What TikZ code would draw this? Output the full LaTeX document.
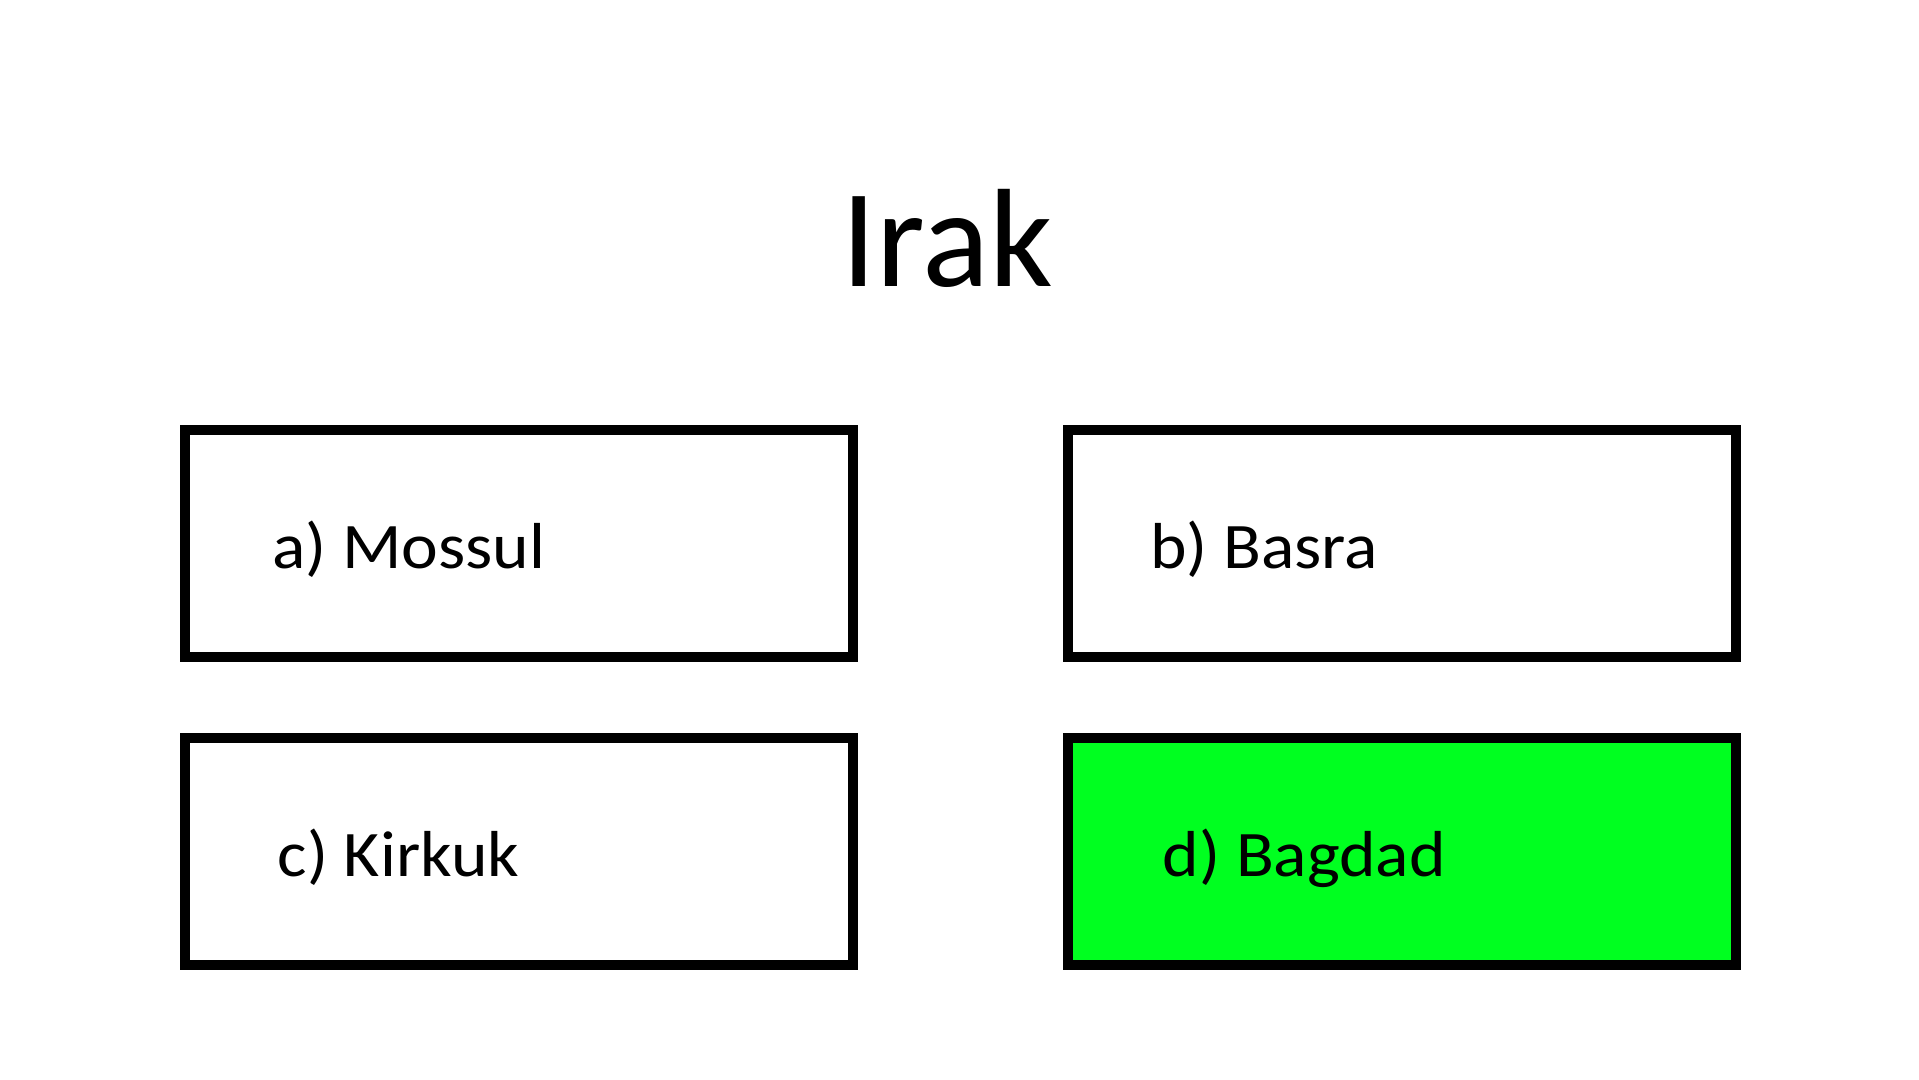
\documentclass[tikz,border=0pt]{standalone}
\usepackage{fontspec}
\setmainfont{Carlito}
\newfontfamily\answerfont{Carlito}[FakeStretch=1.07]
\definecolor{answergreen}{RGB}{0,255,32}
\tikzset{
  answerbox/.style={draw=black, line width=10pt, rectangle, minimum width=668pt, minimum height=227pt, inner sep=0pt},
  answertext/.style={anchor=base west, inner sep=0pt, font=\answerfont\fontsize{65}{78}\selectfont},
  titletext/.style={anchor=base, inner sep=0pt, font=\fontsize{140}{168}\selectfont}
}
\begin{document}
\begin{tikzpicture}[x=1pt, y=-1pt]
\useasboundingbox (0,0) rectangle (1919,1079);
\node[titletext] (title) at (947,286) {Irak};
\node[answerbox, fill=white] (boxa) at (519,543.5) {};
\node[answerbox, fill=white] (boxb) at (1401.5,543.5) {};
\node[answerbox, fill=white] (boxc) at (519,851.5) {};
\node[answerbox, fill=answergreen] (boxd) at (1401.5,851.5) {};
\node[answertext] (ta) at (272,568) {a) Mossul};
\node[answertext] (tb) at (1150,568) {b) Basra};
\node[answertext] (tc) at (277.5,876) {c) Kirkuk};
\node[answertext] (td) at (1162.5,876) {d) Bagdad};
\end{tikzpicture}
\end{document}
